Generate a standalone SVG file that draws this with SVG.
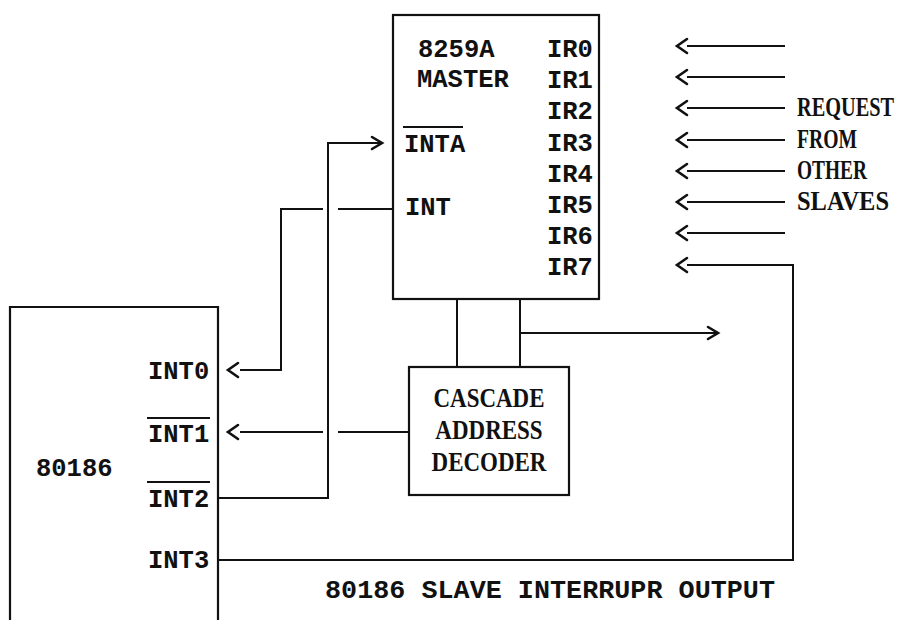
<svg xmlns="http://www.w3.org/2000/svg" width="911" height="620" viewBox="0 0 911 620">
<style>
.bg{fill:#fff}
.box{fill:none;stroke:#111;stroke-width:2.2}
.ln{fill:none;stroke:#111;stroke-width:2}
.chev{fill:none;stroke:#111;stroke-width:2.6;stroke-linecap:round;stroke-linejoin:miter}
.ol{stroke:#111;stroke-width:2}
.mono{font-family:"Liberation Mono","DejaVu Sans Mono",monospace;font-size:25.5px;font-weight:bold;fill:#111}
.serif{font-family:"Liberation Serif","Times New Roman",serif;font-size:23px;font-weight:bold;fill:#111}
</style>
<rect class="bg" x="0" y="0" width="911" height="620"/>

<g id="master-8259a">
<rect class="box" x="393" y="15" width="206" height="284"/>
<text class="mono" x="418" y="57">8259A</text>
<text class="mono" x="417" y="87">MASTER</text>
<line class="ol" x1="403" y1="127" x2="463" y2="127"/>
<text class="mono" x="404" y="152">INTA</text>
<text class="mono" x="405" y="215">INT</text>
<text class="mono" x="547" y="57">IR0</text>
<text class="mono" x="547" y="88">IR1</text>
<text class="mono" x="547" y="119">IR2</text>
<text class="mono" x="547" y="151">IR3</text>
<text class="mono" x="547" y="182">IR4</text>
<text class="mono" x="547" y="213">IR5</text>
<text class="mono" x="547" y="244">IR6</text>
<text class="mono" x="547" y="275">IR7</text>
</g>

<g id="cascade-decoder">
<rect class="box" x="409" y="367" width="160" height="128"/>
<text class="serif" text-anchor="middle" transform="translate(489 407) scale(1 1.15)">CASCADE</text>
<text class="serif" text-anchor="middle" transform="translate(489 439) scale(1 1.15)">ADDRESS</text>
<text class="serif" text-anchor="middle" transform="translate(489 471) scale(1 1.15)">DECODER</text>
</g>

<g id="cpu-80186">
<path class="box" d="M10,620 V307 H218 V620"/>
<text class="mono" x="36" y="476">80186</text>
<text class="mono" x="148" y="379">INT0</text>
<line class="ol" x1="147" y1="418" x2="210" y2="418"/>
<text class="mono" x="148" y="442">INT1</text>
<line class="ol" x1="147" y1="482" x2="210" y2="482"/>
<text class="mono" x="148" y="507">INT2</text>
<text class="mono" x="148" y="568">INT3</text>
</g>

<g id="request-label">
<text class="serif" textLength="97" lengthAdjust="spacingAndGlyphs" transform="translate(797 116) scale(1 1.15)">REQUEST</text>
<text class="serif" textLength="60" lengthAdjust="spacingAndGlyphs" transform="translate(797 148) scale(1 1.15)">FROM</text>
<text class="serif" textLength="70" lengthAdjust="spacingAndGlyphs" transform="translate(797 179) scale(1 1.15)">OTHER</text>
<text class="serif" textLength="92" lengthAdjust="spacingAndGlyphs" transform="translate(797 210) scale(1 1.15)">SLAVES</text>
</g>

<g id="output-label">
<text class="mono" x="325" y="598" textLength="450" lengthAdjust="spacingAndGlyphs">80186 SLAVE INTERRUPR OUTPUT</text>
</g>

<g id="connectors">
<path class="ln" d="M218,498 H328 V143 H380"/>
<path class="chev" d="M372,137 L382,143 L372,149"/>
<path class="ln" d="M393,209 H338"/>
<path class="ln" d="M323,209 H281 V370 H240"/>
<path class="chev" d="M238,363 L228,370 L238,377"/>
<path class="ln" d="M409,432 H338"/>
<path class="ln" d="M323,432 H240"/>
<path class="chev" d="M238,425 L228,432 L238,439"/>
<path class="ln" d="M457,299 V367"/>
<path class="ln" d="M520,299 V367"/>
<path class="ln" d="M520,333 H716"/>
<path class="chev" d="M708,327 L718,333 L708,339"/>
<path class="ln" d="M687,46 H785"/>
<path class="chev" d="M687,39 L677,46 L687,53"/>
<path class="ln" d="M687,77 H785"/>
<path class="chev" d="M687,70 L677,77 L687,84"/>
<path class="ln" d="M687,108 H785"/>
<path class="chev" d="M687,101 L677,108 L687,115"/>
<path class="ln" d="M687,140 H785"/>
<path class="chev" d="M687,133 L677,140 L687,147"/>
<path class="ln" d="M687,171 H785"/>
<path class="chev" d="M687,164 L677,171 L687,178"/>
<path class="ln" d="M687,202 H785"/>
<path class="chev" d="M687,195 L677,202 L687,209"/>
<path class="ln" d="M687,233 H785"/>
<path class="chev" d="M687,226 L677,233 L687,240"/>
<path class="ln" d="M218,560 H793 V265 H687"/>
<path class="chev" d="M687,258 L677,265 L687,272"/>
</g>
</svg>
